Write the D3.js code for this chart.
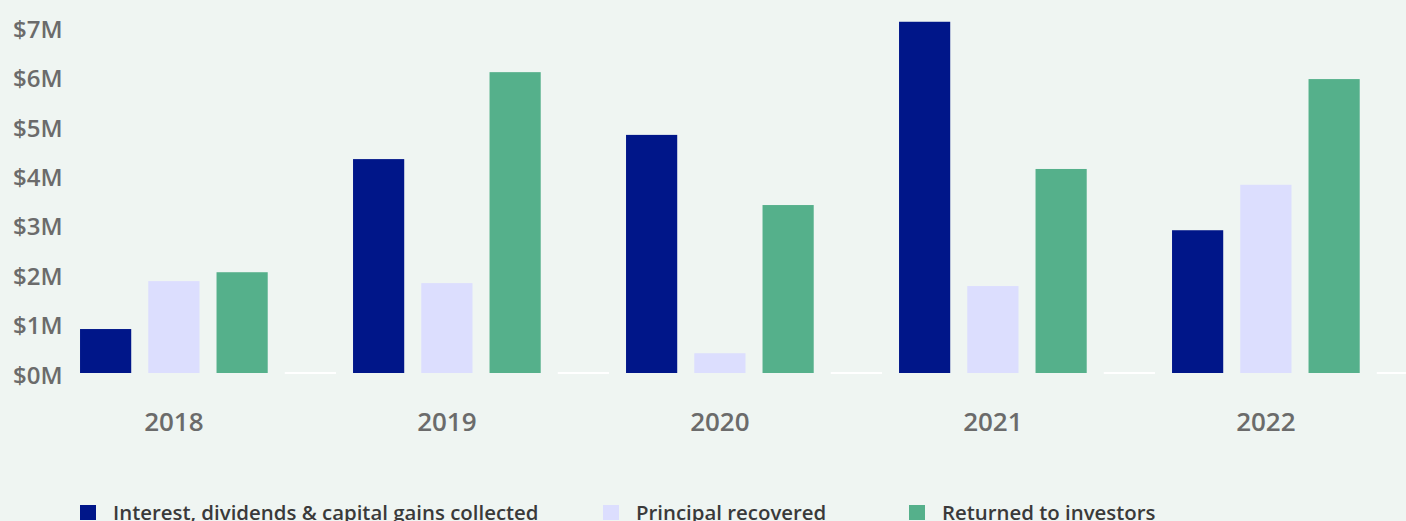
<!DOCTYPE html>
<html>
<head>
<meta charset="utf-8">
<script src="https://cdn.jsdelivr.net/npm/d3@7"></script>
<style>
  html, body { margin: 0; padding: 0; background: #eff5f2; overflow: hidden; }
  svg { display: block; font-family: "Open Sans", sans-serif; }
</style>
</head>
<body>
<svg id="chart" width="1406" height="521"></svg>
<script>
// Annual totals, in millions of dollars
const years = ["2018", "2019", "2020", "2021", "2022"];
const interestCollected = [0.89, 4.33, 4.82, 7.11, 2.89];
const principalRecovered = [1.86, 1.82, 0.40, 1.76, 3.81];
const returnedToInvestors = [2.04, 6.09, 3.40, 4.13, 5.95];
const yTicks = [0, 1, 2, 3, 4, 5, 6, 7];

const seriesNames = [
  "Interest, dividends & capital gains collected",
  "Principal recovered",
  "Returned to investors"
];
const seriesColors = ["#001689", "#dcdefe", "#55b08b"];
// each year gets a fourth, empty slot that only shows a white baseline tick
const slotKeys = ["interest", "principal", "returned", "gap"];

const rows = years.map((yr, i) => ({
  year: yr,
  values: [
    { key: "interest", v: interestCollected[i] },
    { key: "principal", v: principalRecovered[i] },
    { key: "returned", v: returnedToInvestors[i] },
    { key: "gap", v: 0 }
  ]
}));

const svg = d3.select("#chart");

const groupStep = 273;
const x0 = d3.scaleBand()
  .domain(years)
  .range([71.5, 71.5 + groupStep * years.length])
  .paddingInner(0).paddingOuter(0);

const x1 = d3.scaleBand()
  .domain(slotKeys)
  .range([0, x0.bandwidth()])
  .paddingInner(0.25)
  .paddingOuter(0.125);

const y = d3.scaleLinear()
  .domain([0, 7])
  .range([373, 373 - 7 * 49.4]);

const color = d3.scaleOrdinal().domain(slotKeys.slice(0, 3)).range(seriesColors);

// y axis labels
const yAxis = d3.axisLeft(y)
  .tickValues(yTicks)
  .tickSize(0)
  .tickPadding(0)
  .tickFormat(d => "$" + d + "M");

svg.append("g")
  .attr("transform", "translate(62.5,0)")
  .call(yAxis)
  .call(g => g.select(".domain").remove())
  .call(g => g.selectAll("text")
    .attr("dy", null)
    .attr("y", 10)
    .attr("fill", "#6b6b6b")
    .attr("font-size", 24)
    .attr("font-weight", 600)
    .attr("font-family", "'Open Sans', sans-serif"));

// bars
const groups = svg.append("g")
  .selectAll("g")
  .data(rows)
  .join("g")
  .attr("transform", d => `translate(${x0(d.year)},0)`);

groups.selectAll("rect.bar")
  .data(d => d.values.filter(v => v.key !== "gap"))
  .join("rect")
  .attr("class", "bar")
  .attr("x", d => x1(d.key))
  .attr("width", x1.bandwidth())
  .attr("y", d => y(d.v))
  .attr("height", d => y(0) - y(d.v))
  .attr("fill", d => color(d.key));

groups.selectAll("rect.gap")
  .data(d => d.values.filter(v => v.key === "gap"))
  .join("rect")
  .attr("class", "gap")
  .attr("x", d => x1(d.key))
  .attr("width", x1.bandwidth())
  .attr("y", y(0) - 1)
  .attr("height", 2)
  .attr("fill", "#ffffff");

// year labels, centred under the middle bar of each group
const xAxis = d3.axisBottom(x0).tickSize(0).tickPadding(0);
svg.append("g")
  .attr("transform", `translate(${x1("principal") + x1.bandwidth() / 2 - x0.bandwidth() / 2},431)`)
  .call(xAxis)
  .call(g => g.select(".domain").remove())
  .call(g => g.selectAll("text")
    .attr("dy", null)
    .attr("y", 0)
    .attr("fill", "#6b6b6b")
    .attr("font-size", 26)
    .attr("font-weight", 600)
    .attr("font-family", "'Open Sans', sans-serif"));

// legend along the bottom edge
const legendX = [80, 603, 909];
const legend = svg.append("g")
  .selectAll("g")
  .data(seriesNames)
  .join("g")
  .attr("transform", (d, i) => `translate(${legendX[i]},505)`);

legend.append("rect")
  .attr("width", 16)
  .attr("height", 15)
  .attr("fill", (d, i) => seriesColors[i]);

legend.append("text")
  .attr("x", 33)
  .attr("y", 14.5)
  .attr("fill", "#3a3a3a")
  .attr("font-size", 20.4)
  .attr("font-weight", 600)
  .text(d => d);
</script>
</body>
</html>
